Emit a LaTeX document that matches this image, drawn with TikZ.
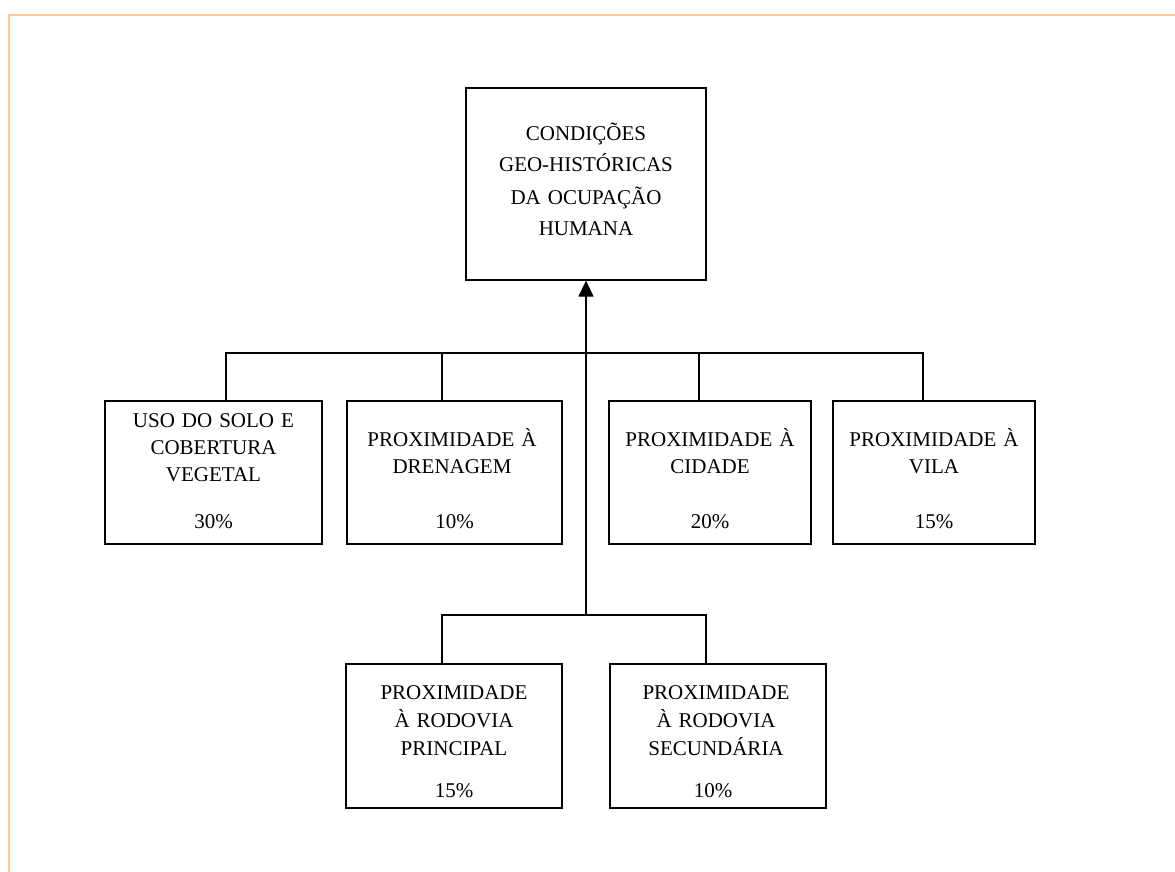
\documentclass[tikz,border=0pt]{standalone}
\usepackage{fontspec}
\setmainfont{Liberation Serif}
\usetikzlibrary{arrows.meta}
\definecolor{framecol}{RGB}{255,204,153}
\begin{document}
\begin{tikzpicture}[x=1pt,y=-1pt,
  boxst/.style={draw, line width=1.2pt, inner sep=0pt, minimum height=143pt},
  txt/.style={font=\fontsize{21}{27}\selectfont, align=center, text width=215pt, anchor=base, inner sep=0pt},
  toptxt/.style={txt, font=\fontsize{21}{32}\selectfont},
  rowtwo/.style={txt, font=\fontsize{21}{28}\selectfont},
  conn/.style={line width=1.2pt}]
\useasboundingbox (0,0) rectangle (1175,872);
% frame
\draw[framecol, line width=2.2pt] (9,872) -- (9,15) -- (1175,15);
% boxes
\node[boxst, minimum width=240pt, minimum height=192pt] (top) at (586,184) {};
\node[boxst, minimum width=217pt] (b1) at (213.5,472.5) {};
\node[boxst, minimum width=215pt] (b2) at (454.5,472.5) {};
\node[boxst, minimum width=202pt] (b3) at (710,472.5) {};
\node[boxst, minimum width=202pt] (b4) at (934,472.5) {};
\node[boxst, minimum width=216pt, minimum height=144pt] (b5) at (454,736) {};
\node[boxst, minimum width=216pt, minimum height=144pt] (b6) at (718,736) {};
% texts
\node[toptxt] (t0) at (586,140) {CONDIÇÕES\\GEO-HISTÓRICAS\\ DA OCUPAÇÃO\\HUMANA};
\node[txt] (t1) at (213.5,427) {USO DO SOLO E\\COBERTURA\\VEGETAL};
\node[txt] (t2) at (452,446) {PROXIMIDADE À\\DRENAGEM};
\node[txt] (t3) at (710,446) {PROXIMIDADE À\\CIDADE};
\node[txt] (t4) at (934,446) {PROXIMIDADE À\\VILA};
\node[rowtwo] (t5) at (454,699) {PROXIMIDADE\\À RODOVIA\\PRINCIPAL};
\node[rowtwo] (t6) at (716,699) {PROXIMIDADE\\À RODOVIA\\SECUNDÁRIA};
\node[txt] (p1) at (213.5,528) {30\%};
\node[txt] (p2) at (454.5,528) {10\%};
\node[txt] (p3) at (710,528) {20\%};
\node[txt] (p4) at (934,528) {15\%};
\node[txt] (p5) at (454,797) {15\%};
\node[txt] (p6) at (713,797) {10\%};
% connectors
\coordinate (h1) at (226,353);
\coordinate (h2) at (442,353);
\coordinate (h3) at (699,353);
\coordinate (h4) at (923,353);
\coordinate (j) at (586,615);
\coordinate (k1) at (442,615);
\coordinate (k2) at (706,615);
\draw[conn] (h1 |- b1.north) -- (h1) -- (h4) -- (h4 |- b4.north);
\draw[conn] (h2) -- (h2 |- b2.north);
\draw[conn] (h3) -- (h3 |- b3.north);
\draw[conn] (k1 |- b5.north) -- (k1) -- (k2) -- (k2 |- b6.north);
\draw[conn, -{Triangle[length=16pt,width=15pt]}] (j) -- (top.south);
\end{tikzpicture}
\end{document}
